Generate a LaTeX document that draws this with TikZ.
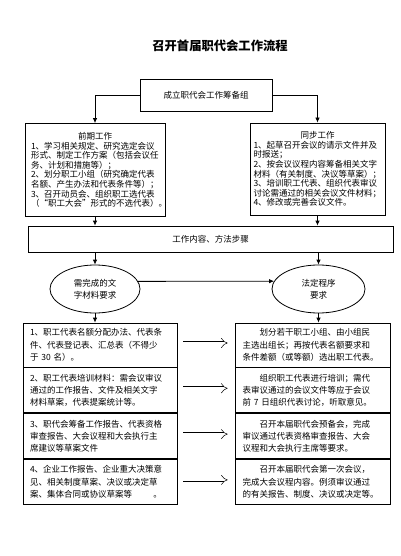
\documentclass[tikz,border=0pt]{standalone}
\usepackage{fontspec}
\setmainfont{Noto Sans CJK SC}
\usetikzlibrary{positioning,arrows.meta,shapes.geometric}

\begin{document}
\begin{tikzpicture}[x=1pt,y=-1pt,
  box/.style={draw,line width=0.8pt,inner sep=0pt},
  plan/.style={box,minimum width=140pt,minimum height=93pt,text width=128pt,align=left,font=\fontsize{8.5}{9.6}\selectfont},
  item/.style={box,minimum height=45pt,text width=140pt,align=left,font=\fontsize{8.5}{12.3}\selectfont},
  goal/.style={draw,line width=0.8pt,ellipse,minimum width=90pt,minimum height=48pt,inner sep=0pt,align=center,font=\fontsize{8.5}{12}\selectfont},
  arr/.style={line width=0.8pt,-{Latex[length=5pt,width=4.5pt]}},
  hollow/.style={double,double distance=3pt,line width=0.5pt,-{Implies},shorten <=6pt,shorten >=7pt}]
\def\PW{128pt}
\useasboundingbox (0,0) rectangle (400,556);
\node (title) at (220,46) {\fontsize{12.3}{14}\selectfont\bfseries 召开首届职代会工作流程};
\node[box,minimum width=132pt,minimum height=32pt,font=\fontsize{8.5}{10}\selectfont] (prep) at (206,95) {成立职代会工作筹备组};
\node[plan] (early) at (95,170) {\makebox[\PW]{前期工作}\\
1、学习相关规定、研究选定会议\\形式、制定工作方案（包括会议任\\务、计划和措施等）；\\
2、划分职工小组（研究确定代表\\名额、产生办法和代表条件等）；\\
3、召开动员会、组织职工选代表\\（“职工大会”形式的不选代表）。};
\node[plan,minimum width=135pt,minimum height=92pt] (sync) at (317.5,169) {\makebox[\PW]{同步工作}\\
1、起草召开会议的请示文件并及\\时报送；\\
2、按会议议程内容筹备相关文字\\材料（有关制度、决议等草案）；\\
3、培训职工代表、组织代表审议\\讨论需通过的相关会议文件材料；\\
4、修改或完善会议文件。};
\node[box,minimum width=365pt,minimum height=26pt,font=\fontsize{8.5}{10}\selectfont] (work) at (210.5,239) {工作内容、方法步骤};
\node[goal] (needs) at (95,289) {需完成的文\\字材料要求};
\node[goal,minimum width=93pt] (rules) at (318.5,289) {法定程序\\要求};
\node[item,minimum width=154pt,minimum height=44pt] (l1) at (100,345) {1、职工代表名额分配办法、代表条\\件、代表登记表、汇总表（不得少\\于 30 名）。};
\node[item,minimum width=154pt,below=0pt of l1] (l2) {2、职工代表培训材料：需会议审议\\通过的工作报告、文件及相关文字\\材料草案，代表提案统计等。};
\node[item,minimum width=154pt,below=0pt of l2] (l3) {3、职代会筹备工作报告、代表资格\\审查报告、大会议程和大会执行主\\席建议等草案文件};
\node[item,minimum width=154pt,below=0pt of l3] (l4) {4、企业工作报告、企业重大决策意\\见、相关制度草案、决议或决定草\\案、集体合同或协议草案等\hspace{2.5em}。};
\node[item,minimum width=155pt,minimum height=44pt] (r1) at (312.5,345) {\hspace*{2em}划分若干职工小组、由小组民\\主选出组长；再按代表名额要求和\\条件差额（或等额）选出职工代表。};
\node[item,minimum width=155pt,below=0pt of r1] (r2) {\hspace*{2em}组织职工代表进行培训；需代\\表审议通过的会议文件等应于会议\\前 7 日组织代表讨论，听取意见。};
\node[item,minimum width=155pt,below=0pt of r2] (r3) {\hspace*{2em}召开本届职代会预备会，完成\\审议通过代表资格审查报告、大会\\议程和大会执行主席等要求。};
\node[item,minimum width=155pt,below=0pt of r3] (r4) {\hspace*{2em}召开本届职代会第一次会议，\\完成大会议程内容。例须审议通过\\的有关报告、制度、决议或决定等。};
\draw[arr] (prep.west) -| (early.north);
\draw[arr] (prep.east) -| (sync.north);
\draw[arr] (early.south) -- (early.south |- work.north);
\draw[arr] (sync.south) -- (sync.south |- work.north);
\draw[arr] (work.south -| needs) -- (needs.north);
\draw[arr] (work.south -| rules) -- (rules.north);
\draw[arr] (needs.10) -- (rules.170);
\draw[arr] (needs.south) -- (needs.south |- l1.north);
\draw[arr] (rules.south) -- (rules.south |- r1.north);
\foreach \i in {1,...,4}{
\draw[hollow] ([yshift=2pt]l\i.east) -- ([yshift=2pt]l\i.east -| r\i.west);}
\end{tikzpicture}
\end{document}
